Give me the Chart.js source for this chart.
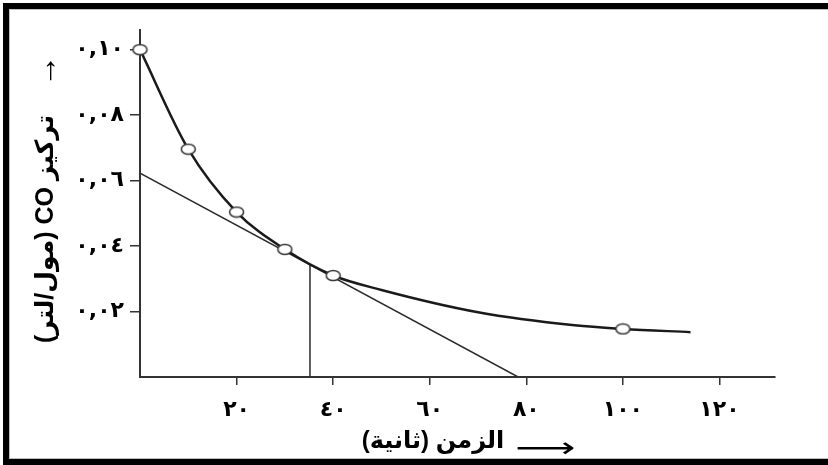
<!DOCTYPE html>
<html><head><meta charset="utf-8">
<script src="https://cdn.jsdelivr.net/npm/chart.js@4"></script>
<style>html,body{margin:0;padding:0;background:#fff;overflow:hidden}#c{display:block}</style>
</head><body>
<canvas id="c" width="828" height="465"></canvas>
<script>
// ---- data ----
const timeTicks = [20, 40, 60, 80, 100, 120];
const timeTickLabels = ['٢٠', '٤٠', '٦٠', '٨٠', '١٠٠', '١٢٠'];
const concTicks = [0.02, 0.04, 0.06, 0.08, 0.10];
const concTickLabels = ['٠,٠٢', '٠,٠٤', '٠,٠٦', '٠,٠٨', '٠,١٠'];
const measuredTime = [0, 10, 20, 30, 40, 100];
const measuredCO = [0.100, 0.0696, 0.0504, 0.039, 0.031, 0.0147];
const curveTime = [0, 10, 20, 30, 40, 50, 70, 90, 100, 114];
const curveCO = [0.100, 0.0696, 0.0504, 0.039, 0.031, 0.0266, 0.0198, 0.0158, 0.0147, 0.0137];
const tangentTime = [0, 78.3];
const tangentCO = [0.0623, 0];
const dropTime = [35.2, 35.2];
const dropCO = [0, 0.0343];
const xTitle = 'الزمن (ثانية)';
const yTitle = 'تركيز CO (مول/لتر)';
const arrowX = '⟶';
const arrowY = '→';

const pts = (xs, ys) => xs.map((x, i) => ({x: x, y: ys[i]}));

// open elliptical marker
const marker = document.createElement('canvas');
marker.width = 17; marker.height = 13;
(function(){
  const m = marker.getContext('2d');
  m.beginPath();
  m.ellipse(8.5, 6.5, 7, 5, 0, 0, Math.PI * 2);
  m.fillStyle = '#fff'; m.fill();
  m.lineWidth = 1.5; m.strokeStyle = '#333'; m.stroke();
})();

const framePlugin = {
  id: 'frame',
  beforeDraw(chart) {
    const ctx = chart.ctx;
    ctx.save();
    ctx.fillStyle = '#fff';
    ctx.fillRect(0, 0, chart.width, chart.height);
    ctx.fillStyle = '#000';
    ctx.fillRect(3, 3, chart.width - 3, 6);
    ctx.fillRect(3, 3, 6, chart.height - 3);
    ctx.fillRect(3, 459, chart.width - 3, 6);
    ctx.fillStyle = '#bdbdbd';
    ctx.fillRect(9, 9, chart.width - 9, 1);
    ctx.fillRect(9, 9, 1, 450);
    ctx.fillRect(9, 458, chart.width - 9, 1);
    ctx.restore();
  }
};

const titlePlugin = {
  id: 'titles',
  afterDraw(chart) {
    const ctx = chart.ctx;
    ctx.save();
    ctx.fillStyle = '#000';
    ctx.direction = 'rtl';
    ctx.textAlign = 'center';
    ctx.textBaseline = 'middle';
    ctx.font = 'bold 24px "Liberation Sans", Arial, "DejaVu Sans", sans-serif';
    ctx.fillText(xTitle, 433, 441);
    ctx.save();
    ctx.translate(545, 450);
    ctx.scale(1.5, 1);
    ctx.font = '28px "DejaVu Sans", sans-serif';
    ctx.fillText(arrowX, 0, 0);
    ctx.restore();
    ctx.save();
    ctx.translate(46, 229);
    ctx.rotate(-Math.PI / 2);
    ctx.font = 'bold 25px "Liberation Sans", Arial, "DejaVu Sans", sans-serif';
    ctx.fillText(yTitle, 0, 0);
    ctx.restore();
    ctx.translate(47, 71);
    ctx.rotate(-Math.PI / 2);
    ctx.font = 'bold 32px "Liberation Sans", Arial, "DejaVu Sans", sans-serif';
    ctx.fillText(arrowY, 0, 0);
    ctx.restore();
  }
};

const tickFont = {family: '"DejaVu Sans", sans-serif', size: 22, weight: 'bold'};

new Chart(document.getElementById('c'), {
  type: 'scatter',
  data: {
    datasets: [
      {data: pts(measuredTime, measuredCO), showLine: false, pointStyle: marker, pointRadius: 7, clip: false, order: 0},
      {data: pts(curveTime, curveCO), showLine: true, borderColor: '#1a1a1a', borderWidth: 2.5, pointRadius: 0, cubicInterpolationMode: 'monotone', order: 1},
      {data: pts(tangentTime, tangentCO), showLine: true, borderColor: '#2a2a2a', borderWidth: 1.5, pointRadius: 0, order: 2},
      {data: pts(dropTime, dropCO), showLine: true, borderColor: '#2a2a2a', borderWidth: 1.5, pointRadius: 0, order: 2}
    ]
  },
  options: {
    responsive: false,
    animation: false,
    events: [],
    layout: {padding: {left: 0, right: 53, top: 30, bottom: 0}},
    plugins: {legend: {display: false}, tooltip: {enabled: false}},
    scales: {
      x: {
        type: 'linear', min: 0, max: 131.5,
        afterBuildTicks: s => { s.ticks = timeTicks.map(v => ({value: v})); },
        afterFit: s => { s.height = 88; },
        border: {display: true, color: '#333', width: 2},
        grid: {drawOnChartArea: false, drawTicks: true, tickLength: 8, color: '#333', lineWidth: 1.5},
        ticks: {callback: v => timeTickLabels[timeTicks.indexOf(v)], font: tickFont, color: '#000', padding: 12, maxRotation: 0, autoSkip: false}
      },
      y: {
        type: 'linear', min: 0, max: 0.106,
        afterBuildTicks: s => { s.ticks = concTicks.map(v => ({value: v})); },
        afterFit: s => { s.width = 140; },
        border: {display: true, color: '#333', width: 2},
        grid: {drawOnChartArea: false, drawTicks: true, tickLength: 10, color: '#333', lineWidth: 1.5},
        ticks: {callback: v => concTickLabels[concTicks.indexOf(v)], font: tickFont, color: '#000', padding: 6, autoSkip: false}
      }
    }
  },
  plugins: [framePlugin, titlePlugin]
});
</script>
</body></html>
